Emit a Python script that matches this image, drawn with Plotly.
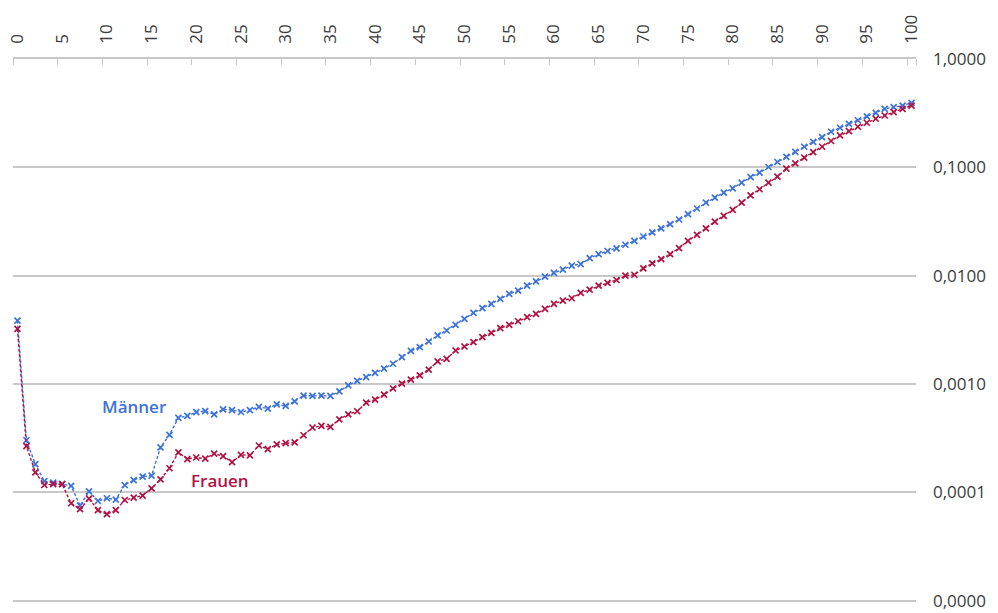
import plotly.graph_objects as go

# Sterbewahrscheinlichkeit nach Alter (logarithmische Skala)
alter = list(range(0, 101))

maenner = [
    0.00385, 0.000303, 0.000182, 0.000127, 0.000123, 0.000119, 0.000115, 0.0000756, 0.000102, 0.0000833,
    0.0000883, 0.0000859, 0.000117, 0.000130, 0.000140, 0.000143, 0.000260, 0.000340, 0.000488, 0.000509,
    0.000550, 0.000563, 0.000526, 0.000585, 0.000575, 0.000552, 0.000575, 0.000615, 0.000594, 0.000650,
    0.000628, 0.000693, 0.000782, 0.000777, 0.000782, 0.000777, 0.000857, 0.000973, 0.00107, 0.00116,
    0.00127, 0.00139, 0.00154, 0.00177, 0.00202, 0.00219, 0.00247, 0.00281, 0.00312, 0.00352,
    0.00400, 0.00454, 0.00501, 0.00549, 0.00610, 0.00679, 0.00728, 0.00809, 0.00888, 0.00979,
    0.0106, 0.0114, 0.0124, 0.0128, 0.0145, 0.0158, 0.0169, 0.0179, 0.0193, 0.0210,
    0.0230, 0.0251, 0.0273, 0.0299, 0.0330, 0.0370, 0.0417, 0.0473, 0.0526, 0.0585,
    0.0641, 0.0723, 0.0814, 0.0893, 0.1007, 0.112, 0.125, 0.139, 0.155, 0.172,
    0.190, 0.213, 0.232, 0.252, 0.272, 0.296, 0.318, 0.347, 0.359, 0.372,
    0.394,
]

frauen = [
    0.00323, 0.000267, 0.000153, 0.000117, 0.000119, 0.000119, 0.0000794, 0.0000700, 0.0000877, 0.0000685,
    0.0000629, 0.0000685, 0.0000851, 0.0000896, 0.0000935, 0.000109, 0.000132, 0.000167, 0.000234, 0.000203,
    0.000210, 0.000205, 0.000228, 0.000216, 0.000190, 0.000222, 0.000220, 0.000271, 0.000251, 0.000277,
    0.000285, 0.000289, 0.000337, 0.000397, 0.000411, 0.000403, 0.000473, 0.000526, 0.000561, 0.000675,
    0.000718, 0.000798, 0.000910, 0.00101, 0.00110, 0.00120, 0.00136, 0.00162, 0.00171, 0.00204,
    0.00222, 0.00244, 0.00271, 0.00297, 0.00328, 0.00352, 0.00380, 0.00414, 0.00444, 0.00494,
    0.00549, 0.00589, 0.00619, 0.00693, 0.00743, 0.00809, 0.00857, 0.00913, 0.0100, 0.0102,
    0.0117, 0.0130, 0.0142, 0.0158, 0.0180, 0.0210, 0.0238, 0.0273, 0.0316, 0.0356,
    0.0405, 0.0473, 0.0552, 0.0628, 0.0723, 0.0821, 0.0973, 0.109, 0.123, 0.138,
    0.155, 0.175, 0.197, 0.216, 0.237, 0.258, 0.281, 0.301, 0.323, 0.347,
    0.372,
]

x_ticks = list(range(0, 101, 5))
x_boundaries = [v - 0.5 for v in range(0, 101, 5)] + [100.5]
y_ticks = [0.00001, 0.0001, 0.001, 0.01, 0.1, 1]
y_labels = ["0,0000", "0,0001", "0,0010", "0,0100", "0,1000", "1,0000"]

BLAU = "#3d72d8"
ROT = "#b01242"
GRAU = "#c8c8c8"
TEXT = "#3c3c3c"
FONT = "Open Sans"


def serie(name, werte, farbe):
    return go.Scatter(
        x=alter,
        y=werte,
        name=name,
        mode="lines+markers",
        line=dict(color=farbe, width=1.4, dash="3px,2px"),
        marker=dict(symbol="x-thin", size=6, line=dict(color=farbe, width=1.7), color=farbe),
        showlegend=False,
    )


fig = go.Figure([serie("Männer", maenner, BLAU), serie("Frauen", frauen, ROT)])

fig.add_annotation(x=13.1, y=-3.208, xref="x", yref="y", text="Männer", showarrow=False,
                   font=dict(family=FONT, size=17, color=BLAU, weight=600))
fig.add_annotation(x=22.7, y=-3.889, xref="x", yref="y", text="Frauen", showarrow=False,
                   font=dict(family=FONT, size=17, color=ROT, weight=600))

fig.update_layout(
    width=998,
    height=613,
    margin=dict(l=13, r=82, t=59, b=9, autoexpand=False),
    paper_bgcolor="white",
    plot_bgcolor="white",
    font=dict(family=FONT, size=17, color=TEXT),
    xaxis=dict(
        side="top",
        range=[-0.5, 100.5],
        tickmode="array",
        tickvals=x_ticks,
        ticktext=[str(v) for v in x_ticks],
        tickangle=-90,
        ticks="",
        ticklabelstandoff=10,
        showgrid=False,
        zeroline=False,
        showline=True,
        linecolor=GRAU,
        linewidth=1.5,
        automargin=False,
        tickfont=dict(family=FONT, size=17, color=TEXT),
        minor=dict(tickmode="array", tickvals=x_boundaries, ticks="inside",
                   ticklen=6, tickwidth=1.2, tickcolor=GRAU, showgrid=False),
    ),
    yaxis=dict(
        type="log",
        side="right",
        range=[-5.03, 0],
        tickmode="array",
        tickvals=y_ticks,
        ticktext=y_labels,
        ticks="",
        ticklabelstandoff=16,
        ticklabeloverflow="allow",
        showgrid=True,
        gridcolor=GRAU,
        gridwidth=1.5,
        zeroline=False,
        showline=False,
        automargin=False,
        tickfont=dict(family=FONT, size=17, color=TEXT),
    ),
)

fig.write_html("out.html")
